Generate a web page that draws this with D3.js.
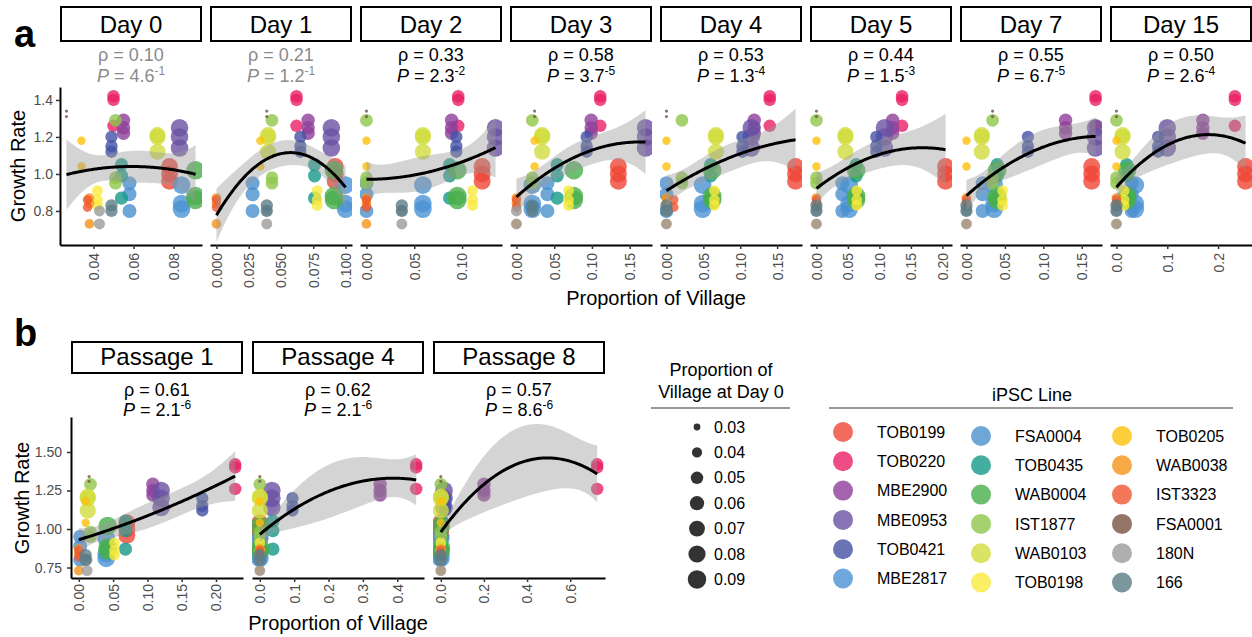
<!DOCTYPE html>
<html>
<head>
<meta charset="utf-8">
<script src="https://cdn.jsdelivr.net/npm/d3@7"></script>
<style>
body { margin: 0; background: #fff; }
svg { font-family: "Liberation Sans", Arial, Helvetica, sans-serif; }
</style>
</head>
<body>
<div id="chart"></div>
<script>
'use strict';

// iPSC lines, legend order
const lines = ['TOB0199', 'TOB0220', 'MBE2900', 'MBE0953', 'TOB0421', 'MBE2817',
    'FSA0004', 'TOB0435', 'WAB0004', 'IST1877', 'WAB0103', 'TOB0198',
    'TOB0205', 'WAB0038', 'IST3323', 'FSA0001', '180N', '166'];
const lineColors = ['#EF4636', '#EA1F65', '#8F3F9A', '#6A51A3', '#4251A4', '#4B92D3',
    '#4B90CE', '#149A88', '#49AF4C', '#8FC64B', '#D1DC3D', '#F9EA3B',
    '#FCC00A', '#F59416', '#F0562F', '#795142', '#9B9B9B', '#5B7C86'];

// growth rate of each replicate, per line (same in every facet)
const growthRates = [
    [1.04, 1.00, 0.96], [1.42, 1.40, 1.26], [1.29, 1.25, 1.22], [1.25, 1.20, 1.14],
    [1.20, 1.15, 1.12], [0.94, 0.84, 0.81], [0.95, 0.89, 0.80], [1.05, 0.99, 0.87],
    [1.02, 0.88, 0.86], [1.29, 0.98, 0.95], [1.21, 1.20, 1.12], [0.91, 0.86, 0.83],
    [1.18, 1.04], [0.87, 0.84, 0.73], [0.86, 0.82], [1.34, 1.31], [0.80, 0.73], [0.83, 0.80]
];

// proportion of village per line, one array per facet
const propDay0 = [0.078, 0.050, 0.055, 0.083, 0.049, 0.084, 0.058, 0.054, 0.091, 0.051, 0.072, 0.042, 0.034, 0.038, 0.037, 0.0265, 0.043, 0.049];
const propDay1 = [0.092, 0.062, 0.071, 0.089, 0.065, 0.100, 0.028, 0.076, 0.091, 0.043, 0.040, 0.078, 0.034, 0.000, 0.000, 0.039, 0.039, 0.039];
const propDay2 = [0.121, 0.096, 0.089, 0.135, 0.094, 0.059, 0.000, 0.087, 0.095, 0.000, 0.059, 0.111, 0.000, 0.000, 0.000, 0.000, 0.037, 0.037];
const propDay3 = [0.135, 0.111, 0.099, 0.171, 0.093, 0.021, 0.041, 0.054, 0.076, 0.021, 0.034, 0.069, 0.024, 0.000, 0.000, 0.024, 0.000, 0.021];
const propDay4 = [0.175, 0.140, 0.119, 0.115, 0.103, 0.049, 0.000, 0.060, 0.062, 0.021, 0.067, 0.065, 0.000, 0.000, 0.010, 0.000, 0.000, 0.000];
const propDay5 = [0.205, 0.136, 0.121, 0.108, 0.095, 0.052, 0.041, 0.063, 0.063, 0.000, 0.046, 0.064, 0.000, 0.000, 0.000, 0.000, 0.000, 0.000];
const propDay7 = [0.163, 0.168, 0.129, 0.168, 0.080, 0.036, 0.021, 0.040, 0.040, 0.034, 0.020, 0.047, 0.000, 0.000, 0.000, 0.034, 0.000, 0.000];
const propDay15 = [0.254, 0.233, 0.170, 0.100, 0.082, 0.037, 0.030, 0.020, 0.021, 0.000, 0.012, 0.015, 0.000, 0.000, 0.000, 0.000, 0.000, 0.000];
const propP1 = [0.070, 0.228, 0.108, 0.120, 0.180, 0.040, 0.002, 0.068, 0.042, 0.017, 0.013, 0.052, 0.010, 0.000, 0.000, 0.015, 0.012, 0.010];
const propP4 = [0.000, 0.455, 0.350, 0.035, 0.095, 0.000, 0.000, 0.038, 0.000, 0.000, 0.000, 0.000, 0.000, 0.000, 0.000, 0.000, 0.000, 0.000];
const propP8 = [0.000, 0.725, 0.200, 0.015, 0.020, 0.000, 0.000, 0.005, 0.000, 0.000, 0.000, 0.000, 0.000, 0.000, 0.000, 0.000, 0.000, 0.000];

const dayFacets = ['Day 0', 'Day 1', 'Day 2', 'Day 3', 'Day 4', 'Day 5', 'Day 7', 'Day 15'];
const dayProps = [propDay0, propDay1, propDay2, propDay3, propDay4, propDay5, propDay7, propDay15];
const dayRho = ['0.10', '0.21', '0.33', '0.58', '0.53', '0.44', '0.55', '0.50'];
const dayP = ['4.6', '1.2', '2.3', '3.7', '1.3', '1.5', '6.7', '2.6'];
const dayPExp = ['-1', '-1', '-2', '-5', '-4', '-3', '-5', '-4'];
const dayTicks = [[0.04, 0.06, 0.08], [0, 0.025, 0.05, 0.075, 0.1], [0, 0.05, 0.1],
    [0, 0.05, 0.1, 0.15], [0, 0.05, 0.1, 0.15], [0, 0.05, 0.1, 0.15, 0.2],
    [0, 0.05, 0.1, 0.15], [0, 0.1, 0.2]];
const dayTickFmt = ['.2f', '.3f', '.2f', '.2f', '.2f', '.2f', '.2f', '.1f'];

const passageFacets = ['Passage 1', 'Passage 4', 'Passage 8'];
const passageProps = [propP1, propP4, propP8];
const passageRho = ['0.61', '0.62', '0.57'];
const passageP = ['2.1', '2.1', '8.6'];
const passagePExp = ['-6', '-6', '-6'];
const passageTicks = [[0, 0.05, 0.1, 0.15, 0.2], [0, 0.1, 0.2, 0.3, 0.4], [0, 0.2, 0.4, 0.6]];
const passageTickFmt = ['.2f', '.1f', '.1f'];

const yTicksA = [0.8, 1.0, 1.2, 1.4];
const yTicksB = [0.75, 1.00, 1.25, 1.50];
const sizeBreaks = [0.03, 0.04, 0.05, 0.06, 0.07, 0.08, 0.09];

const width = 1252, height = 637;

const svg = d3.select('#chart').append('svg')
    .attr('width', width)
    .attr('height', height);

// point size from proportion at day 0 (area scale like ggplot)
const sizeNorm = d3.scaleLinear().domain(d3.extent(propDay0)).range([0, 1]);
const sizeRad = d3.scaleLinear().domain([0, 1]).range([1.6, 9.3]);
const radius = v => sizeRad(Math.sqrt(Math.max(0, sizeNorm(v))));

// quadratic lm fit with 95% CI (geom_smooth-like)
function quadFit(pts) {
    const n = pts.length;
    const mx = d3.mean(pts, p => p.x);
    const sx = d3.deviation(pts, p => p.x) || 1;
    const S = [[0, 0, 0], [0, 0, 0], [0, 0, 0]];
    const b = [0, 0, 0];
    const basis = x => { const u = (x - mx) / sx; return [1, u, u * u]; };
    pts.forEach(p => {
        const v = basis(p.x);
        for (let i = 0; i < 3; i++) {
            b[i] += v[i] * p.y;
            for (let j = 0; j < 3; j++) S[i][j] += v[i] * v[j];
        }
    });
    const [a, bb, c] = S[0], [d, e, f] = S[1], [g, h, k] = S[2];
    const det = a * (e * k - f * h) - bb * (d * k - f * g) + c * (d * h - e * g);
    const inv = [
        [(e * k - f * h) / det, (c * h - bb * k) / det, (bb * f - c * e) / det],
        [(f * g - d * k) / det, (a * k - c * g) / det, (c * d - a * f) / det],
        [(d * h - e * g) / det, (bb * g - a * h) / det, (a * e - bb * d) / det]
    ];
    const beta = inv.map(r => r[0] * b[0] + r[1] * b[1] + r[2] * b[2]);
    const pred = x => { const v = basis(x); return beta[0] * v[0] + beta[1] * v[1] + beta[2] * v[2]; };
    const s2 = d3.sum(pts, p => (p.y - pred(p.x)) ** 2) / (n - 3);
    const se = x => {
        const v = basis(x);
        let q = 0;
        for (let i = 0; i < 3; i++) for (let j = 0; j < 3; j++) q += v[i] * inv[i][j] * v[j];
        return Math.sqrt(s2 * q);
    };
    return { pred, se };
}

let clipId = 0;

function drawFacet(opt) {
    const g = svg.append('g').attr('transform', `translate(${opt.x0},0)`);
    const w = opt.w;

    // strip
    g.append('rect')
        .attr('x', 1).attr('y', opt.stripY)
        .attr('width', w - 2).attr('height', opt.stripH)
        .attr('fill', '#fff').attr('stroke', '#000').attr('stroke-width', 2);
    g.append('text')
        .attr('x', w / 2).attr('y', opt.stripY + opt.stripH - 8)
        .attr('text-anchor', 'middle')
        .attr('font-size', 24)
        .text(opt.label);

    // stats
    const col = opt.faded ? '#8a8a8a' : '#000';
    g.append('text')
        .attr('x', w / 2).attr('y', opt.rhoY)
        .attr('text-anchor', 'middle').attr('font-size', 18).attr('fill', col)
        .text(`ρ = ${opt.rho}`);
    const pt = g.append('text')
        .attr('x', w / 2).attr('y', opt.rhoY + opt.lineGap)
        .attr('text-anchor', 'middle').attr('font-size', 18).attr('fill', col);
    pt.append('tspan').attr('font-style', 'italic').text('P');
    pt.append('tspan').text(` = ${opt.p}`);
    pt.append('tspan').attr('font-size', 12).attr('dy', -7).text(opt.pExp);

    // data
    const pts = [];
    lines.forEach((ln, i) => {
        growthRates[i].forEach(r => pts.push({ x: opt.props[i], y: r, line: i }));
    });

    const ext = d3.extent(opt.props);
    const pad = (ext[1] - ext[0]) * 0.05;
    const x = d3.scaleLinear().domain([ext[0] - pad, ext[1] + pad]).range([0, w]);
    const y = opt.y;

    const id = 'clip' + (clipId++);
    g.append('clipPath').attr('id', id)
        .append('rect').attr('x', 0).attr('y', opt.top).attr('width', w).attr('height', opt.bottom - opt.top);
    const plot = g.append('g').attr('clip-path', `url(#${id})`);

    plot.selectAll('circle')
        .data(pts)
        .join('circle')
        .attr('cx', d => x(d.x))
        .attr('cy', d => y(d.y))
        .attr('r', d => radius(propDay0[d.line]))
        .attr('fill', d => lineColors[d.line])
        .attr('fill-opacity', 0.8);

    const fit = quadFit(pts);
    const xs = d3.range(0, 101).map(t => ext[0] + (ext[1] - ext[0]) * t / 100);
    const tq = 2.01;
    plot.append('path')
        .datum(xs)
        .attr('d', d3.area()
            .x(v => x(v))
            .y0(v => y(fit.pred(v) - tq * fit.se(v)))
            .y1(v => y(fit.pred(v) + tq * fit.se(v))))
        .attr('fill', '#999999').attr('fill-opacity', 0.42);
    plot.append('path')
        .datum(xs)
        .attr('d', d3.line().x(v => x(v)).y(v => y(fit.pred(v))))
        .attr('fill', 'none').attr('stroke', '#000').attr('stroke-width', 3);

    // x axis
    const xAxis = g.append('g')
        .attr('transform', `translate(0,${opt.bottom})`)
        .call(d3.axisBottom(x).tickValues(opt.ticks).tickFormat(d3.format(opt.fmt))
            .tickSize(opt.tick).tickSizeOuter(0).tickPadding(opt.xPad));
    xAxis.select('.domain').attr('stroke', '#000').attr('stroke-width', 2);
    xAxis.selectAll('.tick line').attr('stroke', '#333').attr('stroke-width', 1.5);
    xAxis.selectAll('text')
        .attr('font-family', null)
        .attr('font-size', 14).attr('fill', '#4d4d4d')
        .attr('transform', 'rotate(-90)')
        .attr('text-anchor', 'end')
        .attr('x', -(opt.tick + opt.xPad)).attr('y', 0).attr('dy', '0.35em');

    if (opt.showY) {
        const yAxis = g.append('g')
            .call(d3.axisLeft(y).tickValues(opt.yTicks).tickFormat(d3.format(opt.yFmt))
                .tickSize(opt.tick).tickSizeOuter(0).tickPadding(opt.yPad));
        yAxis.select('.domain').attr('stroke', '#000').attr('stroke-width', 2);
        yAxis.selectAll('.tick line').attr('stroke', '#333').attr('stroke-width', 1.5);
        yAxis.selectAll('text').attr('font-family', null).attr('font-size', 14).attr('fill', '#4d4d4d');
    }
}

// panel a
const yA = d3.scaleLinear().domain([0.616, 1.47]).range([245, 87]);
dayFacets.forEach((lab, i) => {
    drawFacet({
        x0: 60 + i * 150, w: 142, label: lab,
        stripY: 7, stripH: 34, rhoY: 61, lineGap: 21,
        rho: dayRho[i], p: dayP[i], pExp: dayPExp[i], faded: i < 2,
        props: dayProps[i], y: yA, top: 87, bottom: 245,
        ticks: dayTicks[i], fmt: dayTickFmt[i], tick: 4, xPad: 4, yPad: 3,
        showY: i === 0, yTicks: yTicksA, yFmt: '.1f'
    });
});

// panel b
const yB = d3.scaleLinear().domain([0.682, 1.727]).range([578, 417]);
passageFacets.forEach((lab, i) => {
    drawFacet({
        x0: 71 + i * 181, w: 172, label: lab,
        stripY: 342, stripH: 31, rhoY: 396, lineGap: 20,
        rho: passageRho[i], p: passageP[i], pExp: passagePExp[i], faded: false,
        props: passageProps[i], y: yB, top: 417, bottom: 578,
        ticks: passageTicks[i], fmt: passageTickFmt[i], tick: 4, xPad: 2, yPad: 5,
        showY: i === 0, yTicks: yTicksB, yFmt: '.2f'
    });
});

// axis titles and panel letters
svg.append('text').attr('x', 14).attr('y', 47).attr('font-size', 38).attr('font-weight', 'bold').text('a');
svg.append('text').attr('x', 14).attr('y', 346).attr('font-size', 38).attr('font-weight', 'bold').text('b');

svg.append('text').attr('transform', 'translate(25,166) rotate(-90)')
    .attr('text-anchor', 'middle').attr('font-size', 20).text('Growth Rate');
svg.append('text').attr('transform', 'translate(29,498) rotate(-90)')
    .attr('text-anchor', 'middle').attr('font-size', 20).text('Growth Rate');
svg.append('text').attr('x', 656).attr('y', 305)
    .attr('text-anchor', 'middle').attr('font-size', 20).text('Proportion of Village');
svg.append('text').attr('x', 338).attr('y', 630)
    .attr('text-anchor', 'middle').attr('font-size', 20).text('Proportion of Village');

// size legend
const sizeLeg = svg.append('g');
sizeLeg.append('text').attr('x', 721).attr('y', 376).attr('text-anchor', 'middle')
    .attr('font-size', 18).text('Proportion of');
sizeLeg.append('text').attr('x', 721).attr('y', 398).attr('text-anchor', 'middle')
    .attr('font-size', 18).text('Village at Day 0');
sizeLeg.append('line').attr('x1', 651).attr('x2', 790).attr('y1', 408).attr('y2', 408)
    .attr('stroke', '#333').attr('stroke-width', 1.2);
sizeBreaks.forEach((v, i) => {
    const cy = 427 + i * 25.4;
    sizeLeg.append('circle').attr('cx', 697).attr('cy', cy).attr('r', radius(v))
        .attr('fill', '#000').attr('fill-opacity', 0.8);
    sizeLeg.append('text').attr('x', 714).attr('y', cy).attr('dy', '0.35em')
        .attr('font-size', 16).text(d3.format('.2f')(v));
});

// colour legend
const colLeg = svg.append('g');
colLeg.append('text').attr('x', 1032).attr('y', 401).attr('text-anchor', 'middle')
    .attr('font-size', 18).text('iPSC Line');
colLeg.append('line').attr('x1', 829).attr('x2', 1233).attr('y1', 408).attr('y2', 408)
    .attr('stroke', '#333').attr('stroke-width', 1.2);
const colX = [843, 981, 1122];
const colY0 = [432, 436, 436];
lines.forEach((ln, i) => {
    const c = Math.floor(i / 6), r = i % 6;
    const cy = colY0[c] + r * 29.3;
    colLeg.append('circle').attr('cx', colX[c]).attr('cy', cy).attr('r', 10)
        .attr('fill', lineColors[i]).attr('fill-opacity', 0.8);
    colLeg.append('text').attr('x', colX[c] + 34).attr('y', cy).attr('dy', '0.35em')
        .attr('font-size', 16).text(ln);
});
</script>
</body>
</html>
